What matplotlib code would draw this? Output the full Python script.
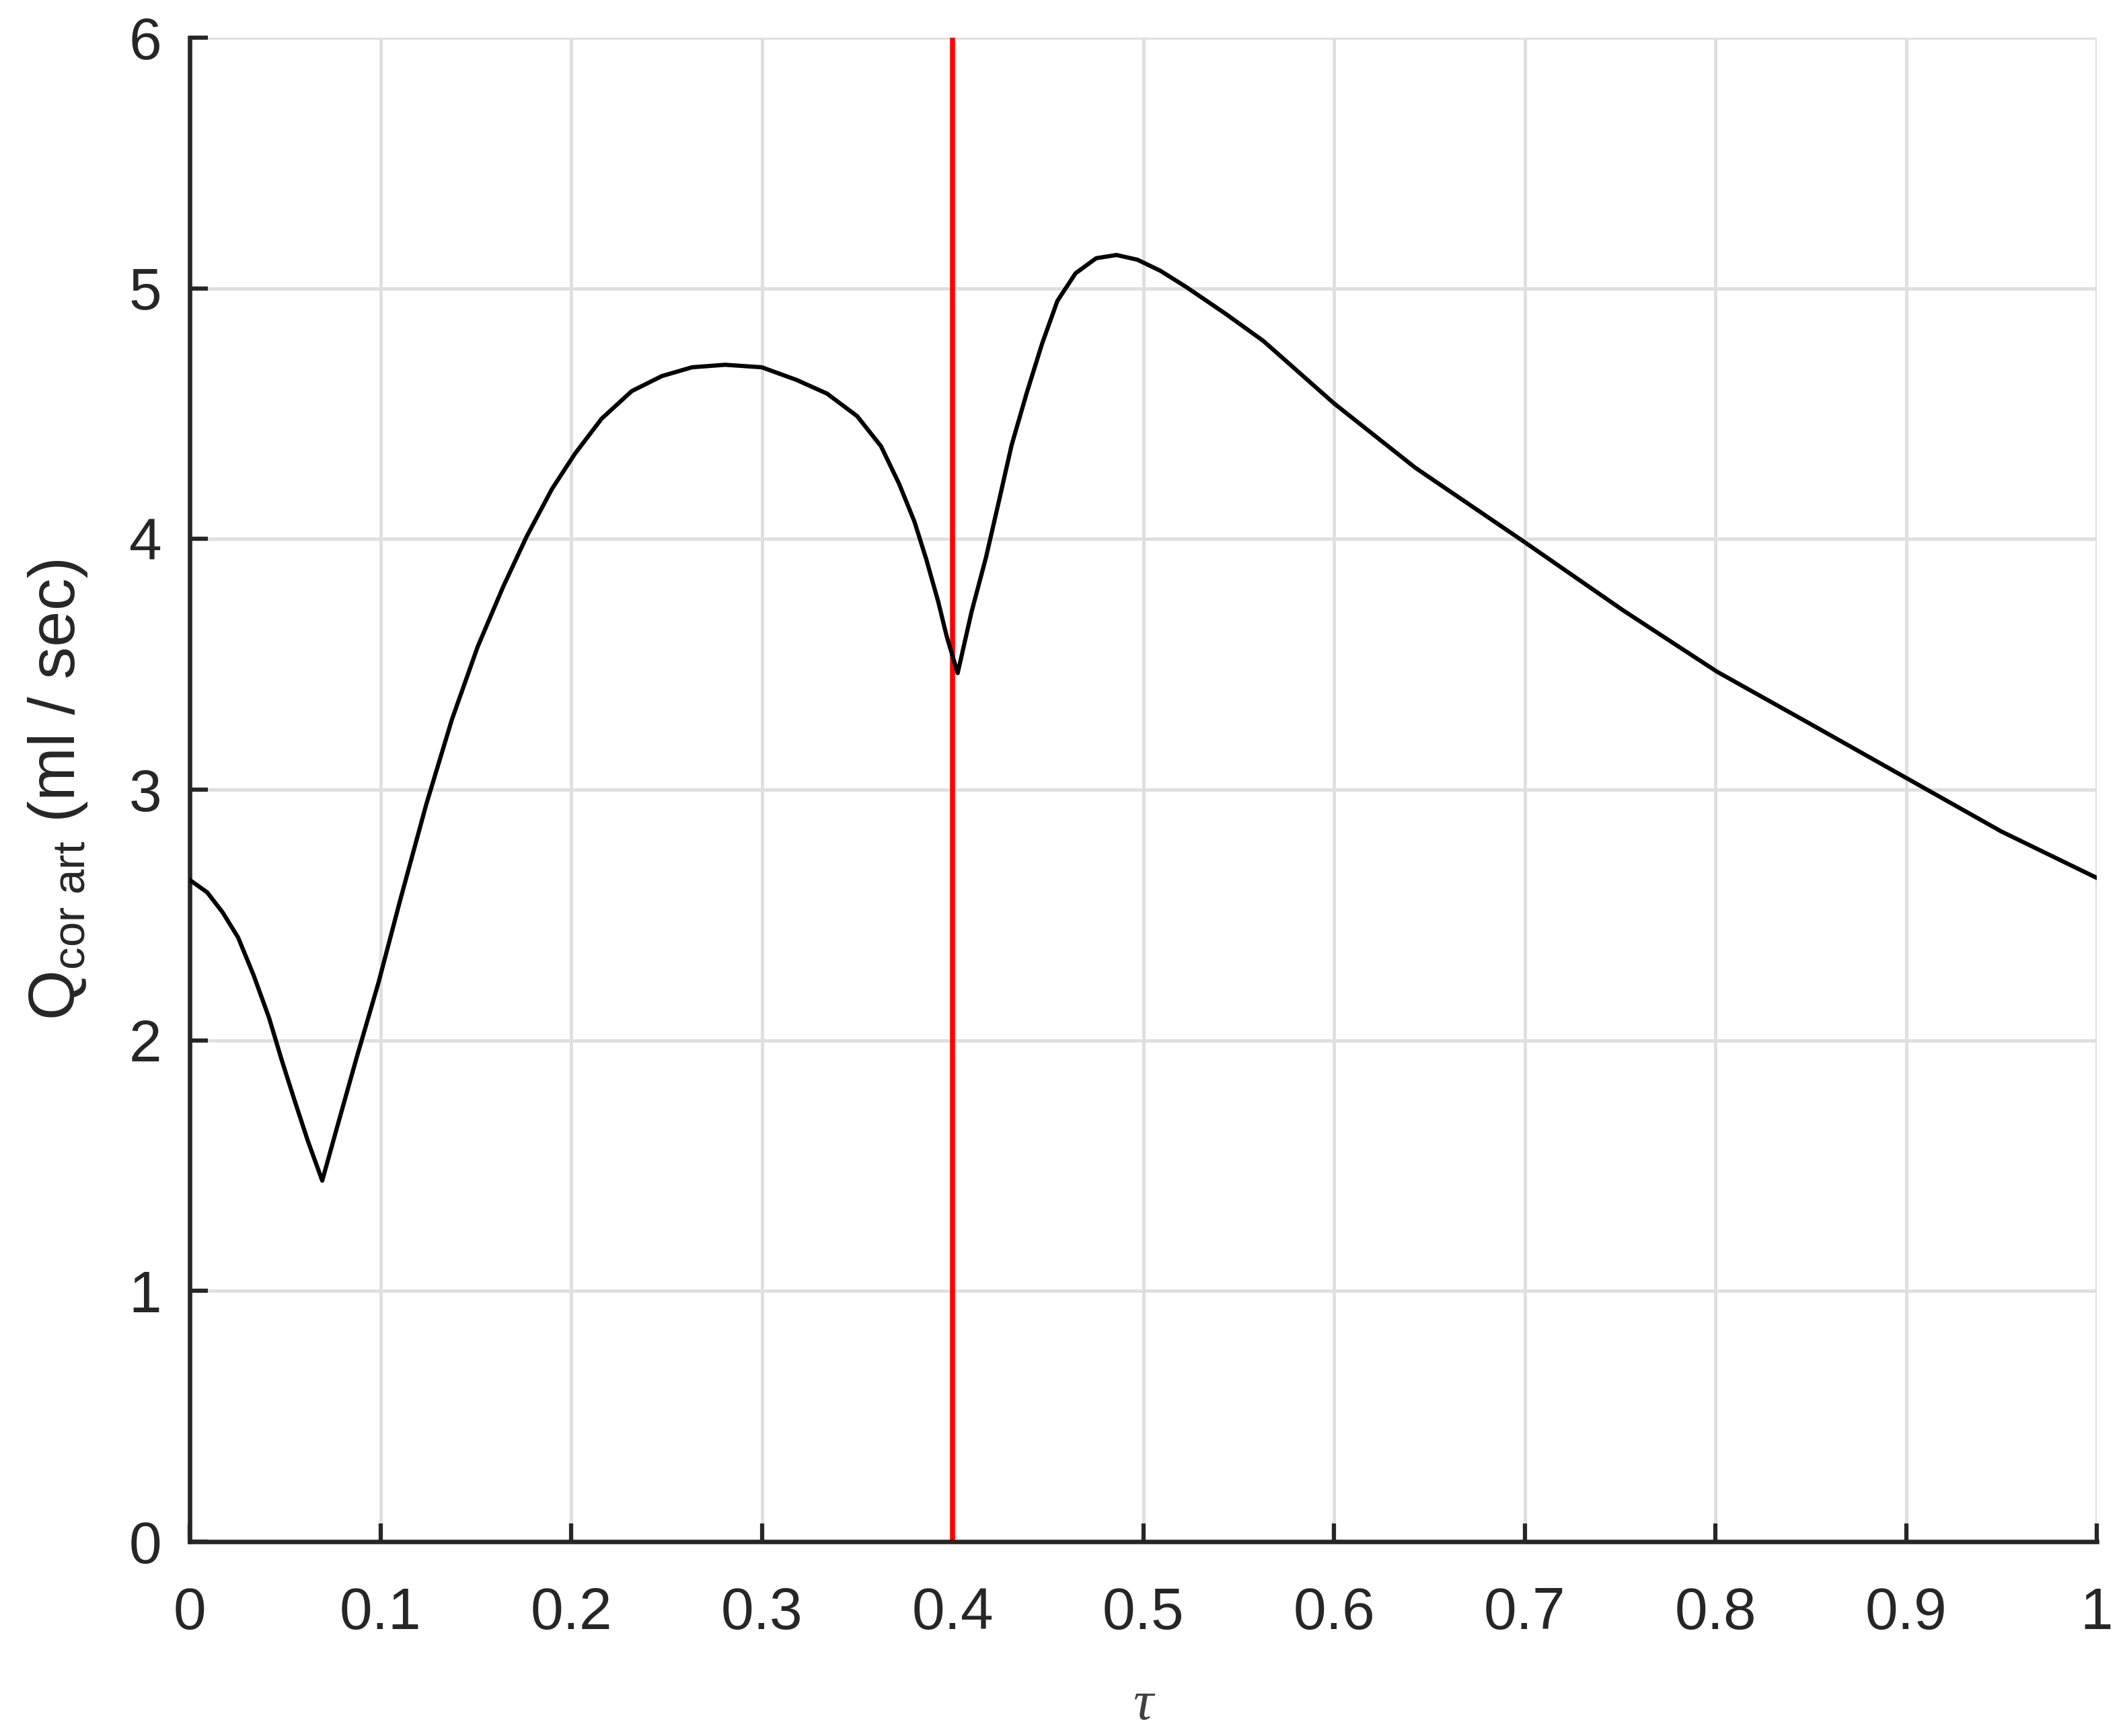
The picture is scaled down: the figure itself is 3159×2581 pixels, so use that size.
import matplotlib
matplotlib.use("Agg")
import matplotlib.pyplot as plt

# values
tau = [0.0000, 0.0092, 0.0173, 0.0254, 0.0335, 0.0416, 0.0483, 0.0550, 0.0619, 0.0695,
       0.0768, 0.0875, 0.0990, 0.1104, 0.1240, 0.1375, 0.1510, 0.1644, 0.1767, 0.1900,
       0.2020, 0.2160, 0.2318, 0.2476, 0.2634, 0.2807, 0.3000, 0.3184, 0.3342, 0.3500,
       0.3625, 0.3720, 0.3800, 0.3862, 0.3925, 0.3970, 0.4027, 0.4100, 0.4175, 0.4240,
       0.4310, 0.4390, 0.4470, 0.4550, 0.4645, 0.4753, 0.4860, 0.4970, 0.5090, 0.5226,
       0.5429, 0.5630, 0.6002, 0.6427, 0.6995, 0.7515, 0.8010, 0.8494, 0.9005,
       0.9500, 1.0000]
q_cor = [2.64, 2.59, 2.51, 2.41, 2.26, 2.09, 1.92, 1.76, 1.60, 1.44,
         1.64, 1.93, 2.23, 2.56, 2.94, 3.28, 3.57, 3.81, 4.01, 4.20,
         4.34, 4.48, 4.59, 4.65, 4.685, 4.695, 4.685, 4.634, 4.58, 4.49,
         4.37, 4.22, 4.07, 3.92, 3.75, 3.61, 3.465, 3.71, 3.925, 4.14,
         4.375, 4.585, 4.78, 4.95, 5.06, 5.12, 5.133, 5.114, 5.07, 5.005,
         4.90, 4.79, 4.54, 4.284, 3.99, 3.716, 3.47, 3.264, 3.045,
         2.833, 2.648]
tau_mark = 0.4
xticks = [0, 0.1, 0.2, 0.3, 0.4, 0.5, 0.6, 0.7, 0.8, 0.9, 1]
yticks = [0, 1, 2, 3, 4, 5, 6]

plt.rcParams['font.family'] = ['Liberation Sans', 'DejaVu Sans']
plt.rcParams['mathtext.fontset'] = 'custom'
plt.rcParams['mathtext.rm'] = 'Liberation Sans'
plt.rcParams['mathtext.it'] = 'Liberation Sans:italic'

fig = plt.figure(figsize=(3159 / 300, 2581 / 300), dpi=300)
ax = fig.add_axes([0.08927, 0.11197, 0.89744, 0.86633])

ax.axvline(tau_mark, color='#ff0000', lw=1.8, zorder=2)
ax.plot(tau, q_cor, color='black', lw=1.5, zorder=3)

ax.set_xlim(0, 1)
ax.set_ylim(0, 6)
ax.set_xticks(xticks)
ax.set_xticklabels(['%g' % t for t in xticks])
ax.set_yticks(yticks)

ax.grid(True, color='#dfdfdf', lw=1.2, zorder=0)
ax.set_axisbelow(True)
for s in ['top', 'right']:
    ax.spines[s].set_visible(False)
for s in ['left', 'bottom']:
    ax.spines[s].set_color('#262626')
    ax.spines[s].set_linewidth(1.6)

ax.tick_params(direction='in', length=6.5, width=1.5, color='#262626',
               labelcolor='#262626', labelsize=21)
ax.tick_params(axis='x', pad=16)
ax.tick_params(axis='y', pad=10)

ax.set_ylabel(r'$\mathrm{Q}_{\mathrm{cor\ art}}$ (ml / sec)', fontsize=23,
              color='#262626', labelpad=14)
ax.set_xlabel('τ', fontsize=20, color='#404040', style='italic',
              family=['Liberation Serif', 'DejaVu Serif'], labelpad=14)

fig.savefig('out.png', dpi=300)
